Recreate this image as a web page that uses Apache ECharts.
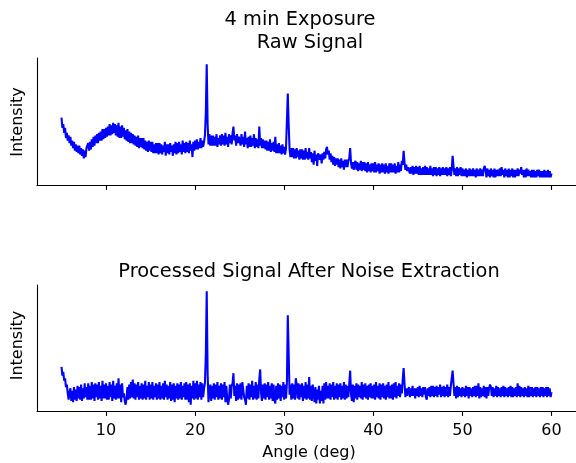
<!DOCTYPE html>
<html>
<head>
<meta charset="utf-8">
<script src="https://cdn.jsdelivr.net/npm/echarts@6/dist/echarts.min.js"></script>
<style>
html,body{margin:0;padding:0;background:#fff;}
#chart{width:576px;height:463px;}
</style>
</head>
<body>
<div id="chart"></div>
<script>
// Sampling grid of the scan (degrees)
const angleStart = 5.0;
const angleStep = 0.1;

// Raw signal (arbitrary intensity units), one row per degree, 5.0 .. 60.0
const rawSignal = [
  53,45,48,41,45,37,41,35,39,33, // 5
  38,31,35,29,34,27,32,26,31,25, // 6
  31,24,29,23,28,21,27,22,29,31, // 7
  33,27,34,28,36,30,38,31,39,33, // 8
  40,33,41,35,42,35,44,36,44,37, // 9
  45,38,46,39,48,39,47,40,49,41, // 10
  48,39,47,38,49,37,46,37,47,38, // 11
  45,36,43,35,44,34,42,33,41,33, // 12
  40,32,39,31,38,30,39,29,37,30, // 13
  37,29,37,28,35,27,34,26,35,27, // 14
  34,26,34,25,32,25,33,25,33,24, // 15
  33,25,32,24,31,26,34,23,32,25, // 16
  32,24,33,26,31,23,32,25,34,24, // 17
  33,25,34,26,32,24,35,26,33,25, // 18
  34,26,33,25,35,27,32,22,34,27, // 19
  35,28,36,28,34,29,37,29,35,30, // 20
  34,39,57,95,48,32,40,31,39,31, // 21
  39,31,38,31,40,30,37,32,39,31, // 22
  40,32,39,31,41,32,38,30,40,33, // 23
  39,32,41,46,35,39,31,40,33,38, // 24
  39,31,40,32,38,30,42,32,37,29, // 25
  38,30,39,30,37,31,40,29,37,30, // 26
  36,29,46,31,37,29,36,29,35,28, // 27
  35,27,34,27,36,26,33,27,34,26, // 28
  38,25,32,25,33,25,31,24,32,25, // 29
  30,24,29,30,72,47,28,22,29,22, // 30
  29,21,28,21,29,22,27,20,28,21, // 31
  28,20,27,20,29,21,26,20,29,21, // 32
  26,18,25,16,27,19,24,15,25,26, // 33
  20,24,17,25,20,26,21,28,30,24, // 34
  27,20,25,18,23,16,22,15,21,16, // 35
  21,14,20,13,21,14,19,12,20,14, // 36
  20,14,19,21,29,17,13,18,12,17, // 37
  19,12,18,11,17,12,19,11,18,12, // 38
  18,11,17,10,18,11,16,10,17,11, // 39
  17,10,18,10,16,11,17,9,16,10,  // 40
  17,10,16,9,17,10,15,9,17,10,   // 41
  17,10,16,10,17,9,15,10,18,10,  // 42
  16,11,19,16,27,18,12,16,11,14, // 43
  15,9,14,9,15,8,14,9,15,9,      // 44
  14,8,15,8,13,8,14,8,15,8,      // 45
  14,8,13,8,15,8,13,7,14,8,      // 46
  14,7,13,8,14,7,13,8,14,8,      // 47
  13,8,14,7,13,8,14,7,12,23,     // 48
  15,8,13,7,14,7,13,8,14,7,      // 49
  13,7,12,7,13,6,12,7,13,7,      // 50
  12,7,13,7,12,6,13,7,12,7,      // 51
  13,7,12,7,13,15,12,6,13,7,     // 52
  12,6,13,7,12,6,13,6,12,7,      // 53
  12,7,13,7,14,8,12,6,13,7,      // 54
  12,6,13,6,12,7,13,6,12,6,      // 55
  12,7,13,7,12,9,14,8,12,6,      // 56
  12,6,13,7,12,7,11,6,12,6,      // 57
  12,6,11,6,12,7,12,6,11,6,      // 58
  11,6,12,6,11,6,12,6,11,6,      // 59
  9                              // 60
];

// Processed signal after noise extraction, 5.0 .. 60.0
const processedSignal = [
  35,28,31,24,26,19,21,14,9,15,  // 5
  18,8,16,7,19,9,17,8,20,10,     // 6
  19,9,21,8,18,10,22,11,19,9,    // 7
  22,9,20,9,23,10,21,8,22,11,    // 8
  21,9,23,10,20,8,24,10,21,10,   // 9
  22,9,20,9,23,11,21,8,24,10,    // 10
  20,9,22,10,26,10,21,7,22,11,   // 11
  14,8,5,10,19,9,21,10,23,11,    // 12
  25,10,22,9,21,11,23,9,20,10,   // 13
  22,9,21,10,24,9,20,11,23,9,    // 14
  21,10,23,9,20,11,22,9,21,10,   // 15
  23,9,20,10,22,9,24,11,21,9,    // 16
  20,10,23,8,21,9,22,7,20,10,    // 17
  22,9,21,10,23,9,20,11,22,9,    // 18
  23,9,21,7,22,5,20,10,24,9,     // 19
  22,10,24,9,21,11,23,9,22,11,   // 20
  18,22,45,95,30,7,16,21,8,20,   // 21
  10,22,9,21,11,23,9,20,10,22,   // 22
  9,21,11,23,7,20,10,5,9,21,     // 23
  10,20,22,30,12,20,8,22,9,21,   // 24
  10,22,9,23,24,11,9,5,20,10,    // 25
  22,9,21,11,24,9,20,10,23,9,    // 26
  21,10,25,33,14,8,21,10,22,9,   // 27
  21,11,23,9,20,10,22,8,21,9,    // 28
  6,20,9,22,10,21,8,20,11,23,    // 29
  9,21,10,22,76,45,13,21,9,22,   // 30
  10,21,9,26,20,10,22,9,21,11,   // 31
  22,8,20,10,23,9,21,10,27,9,    // 32
  20,8,21,22,7,19,6,17,9,20,     // 33
  6,16,8,20,6,22,9,23,10,20,     // 34
  10,22,9,21,11,23,9,20,10,22,   // 35
  9,21,11,22,9,20,10,23,9,21,    // 36
  10,20,11,22,32,13,8,21,7,20,   // 37
  10,22,9,21,11,20,10,23,9,21,   // 38
  11,22,10,20,9,21,11,22,10,20,  // 39
  10,21,9,23,11,20,10,22,9,21,   // 40
  11,22,10,20,9,21,11,23,10,20,  // 41
  10,21,9,22,11,23,10,20,12,22,  // 42
  11,21,14,25,34,22,11,18,12,17, // 43
  19,11,18,12,20,12,18,10,18,12, // 44
  19,11,20,12,18,11,19,13,19,11, // 45
  9,18,12,19,11,20,12,20,11,19,  // 46
  12,20,11,19,13,21,11,19,12,20, // 47
  11,19,12,21,11,19,12,20,21,32, // 48
  22,12,19,10,20,11,19,12,18,11, // 49
  19,12,18,11,20,12,19,10,19,12, // 50
  18,11,19,12,20,11,20,12,22,10, // 51
  19,11,18,12,20,11,19,10,19,12, // 52
  18,21,19,12,19,11,18,12,20,11, // 53
  19,12,18,11,19,12,20,11,19,12, // 54
  18,11,19,12,20,11,19,11,18,12, // 55
  19,11,22,12,20,11,19,12,18,11, // 56
  19,12,18,11,20,11,19,12,19,11, // 57
  18,12,19,11,19,12,18,11,19,12, // 58
  19,11,18,12,19,11,19,12,18,11, // 59
  15                             // 60
];

const xTicks = [10, 20, 30, 40, 50, 60];
const titleTopLine1 = '4 min Exposure';
const titleTopLine2 = 'Raw Signal';
const titleBottom = 'Processed Signal After Noise Extraction';
const yLabel = 'Intensity';
const xLabel = 'Angle (deg)';

function toPairs(vals) {
  return vals.map((v, i) => [+(angleStart + i * angleStep).toFixed(2), v]);
}

const FONT = 'DejaVu Sans';
const TITLE_SIZE = 19.4;
const LABEL_SIZE = 16;
const chart = echarts.init(document.getElementById('chart'), null, {renderer: 'canvas'});

function xAxisCfg(gridIndex, showLabels) {
  return {
    type: 'value', gridIndex: gridIndex, min: 2.25, max: 62.75,
    axisLine: {show: true, onZero: false, lineStyle: {color: '#000', width: 1.1}},
    axisTick: {show: true, customValues: xTicks, length: 4.9, inside: false, lineStyle: {color: '#000', width: 1.1}},
    axisLabel: {show: showLabels, customValues: xTicks, margin: 12, color: '#000', fontSize: LABEL_SIZE, fontFamily: FONT},
    splitLine: {show: false}
  };
}
function yAxisCfg(gridIndex) {
  return {
    type: 'value', gridIndex: gridIndex, min: 0, max: 100,
    axisLine: {show: true, lineStyle: {color: '#000', width: 1.1}},
    axisTick: {show: false}, axisLabel: {show: false}, splitLine: {show: false}
  };
}

const textStyle = (t, size) => ({
  text: t, fill: '#000', fontSize: size, fontFamily: FONT,
  textAlign: 'center', textVerticalAlign: 'middle', align: 'center', verticalAlign: 'middle'
});

chart.setOption({
  animation: false,
  grid: [
    {left: 37, top: 58, width: 543, height: 127},
    {left: 37, top: 285, width: 543, height: 126}
  ],
  xAxis: [xAxisCfg(0, false), xAxisCfg(1, true)],
  yAxis: [yAxisCfg(0), yAxisCfg(1)],
  series: [
    {type: 'line', xAxisIndex: 0, yAxisIndex: 0, data: toPairs(rawSignal), showSymbol: false, symbol: 'none',
     lineStyle: {color: '#0000ff', width: 2.08}, silent: true},
    {type: 'line', xAxisIndex: 1, yAxisIndex: 1, data: toPairs(processedSignal), showSymbol: false, symbol: 'none',
     lineStyle: {color: '#0000ff', width: 2.08}, silent: true}
  ],
  graphic: [
    {type: 'text', x: 300, y: 19.9, style: textStyle(titleTopLine1, TITLE_SIZE)},
    {type: 'text', x: 310, y: 42.5, style: textStyle(titleTopLine2, TITLE_SIZE)},
    {type: 'text', x: 309, y: 271.7, style: textStyle(titleBottom, TITLE_SIZE)},
    {type: 'text', x: 18, y: 122, rotation: Math.PI / 2, style: textStyle(yLabel, LABEL_SIZE)},
    {type: 'text', x: 18, y: 345.5, rotation: Math.PI / 2, style: textStyle(yLabel, LABEL_SIZE)},
    {type: 'text', x: 309, y: 453.3, style: textStyle(xLabel, LABEL_SIZE)}
  ]
});
</script>
</body>
</html>
